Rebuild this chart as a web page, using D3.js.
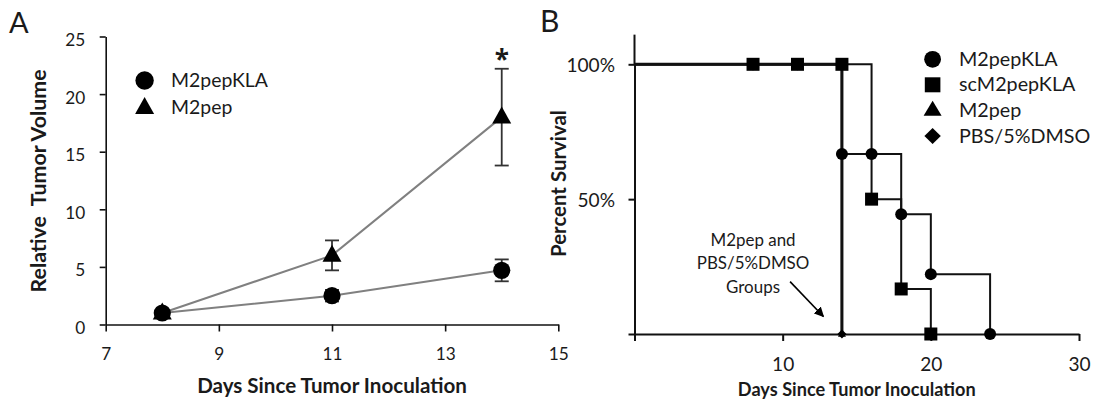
<!DOCTYPE html>
<html><head><meta charset="utf-8">
<script src="https://cdn.jsdelivr.net/npm/d3@7"></script>
<style>
body{margin:0;background:#fff}
svg{display:block}
text{font-family:Lato,'Open Sans',sans-serif;fill:#1a1a1a}
</style>
</head><body>
<svg id="c" width="1093" height="402"></svg>
<script>
// ---------- Panel A data ----------
const tumorDays = [8, 11, 14];
const klaVolume = [1.0, 2.5, 4.7];
const klaErr = [0, 0.5, 0.95];
const pepVolume = [1.0, 6.0, 18.0];
const pepErr = [0, 1.3, 4.2];
const volumeTicks = [0, 5, 10, 15, 20, 25];
const dayTicksA = [7, 9, 11, 13, 15];
const groupsA = ["M2pepKLA", "M2pep"];
const starDay = 14, starValue = 23.6;

// ---------- Panel B data ----------
const groupsB = ["M2pepKLA", "scM2pepKLA", "M2pep", "PBS/5%DMSO"];
const klaSurvDays = [0, 8, 11, 14, 16, 18, 20, 24];
const klaSurv = [100, 100, 100, 66.7, 66.7, 44.4, 22.2, 0];
const scSurvDays = [0, 8, 11, 14, 16, 18, 20];
const scSurv = [100, 100, 100, 100, 50, 16.7, 0];
const pepSurvDays = [0, 8, 11, 14];
const pepSurv = [100, 100, 100, 0];
const pbsSurvDays = [0, 8, 11, 14];
const pbsSurv = [100, 100, 100, 0];
const survTicks = [0, 50, 100];
const dayTicksB = [0, 10, 20, 30];
const noteLines = ["M2pep and", "PBS/5%DMSO", "Groups"];
const notePos = {day: 8.0, pct: [34.9, 26.3, 17.4]};
const arrowFrom = {day: 10.5, pct: 19.4}, arrowTo = {day: 12.75, pct: 6.5};

const svg = d3.select("#c");
const INK = "#111";
const FONT = "Lato,'Open Sans',sans-serif";

function fitSize(str, weight, target) {
  const t = svg.append("text").style("font-weight", weight).style("font-size", "100px").text(str);
  const w = t.node().getComputedTextLength();
  t.remove();
  return 100 * target / w;
}

// ================= PANEL A =================
const xA = d3.scaleLinear().domain([7, 15]).range([105.7, 558.3]);
const yA = d3.scaleLinear().domain([0, 25]).range([324.5, 36.5]);
const tickFontA = fitSize("13", 400, 20);

const gxA = svg.append("g").attr("transform", `translate(0,${yA(0)})`)
  .call(d3.axisBottom(xA).tickValues(dayTicksA).tickSize(7).tickSizeOuter(0).tickFormat(d3.format("d")));
const gyA = svg.append("g").attr("transform", `translate(${xA(7)},0)`)
  .call(d3.axisLeft(yA).tickValues(volumeTicks).tickSize(6).tickSizeOuter(0));
[gxA, gyA].forEach(g => {
  g.select(".domain").attr("stroke", INK).attr("stroke-width", 1.6);
  g.selectAll(".tick line").attr("stroke", INK).attr("stroke-width", 1.6);
  g.selectAll("text").style("font-size", tickFontA + "px").attr("fill", "#1a1a1a").style("font-family", FONT);
});
gxA.selectAll("text").attr("y", 35.5).attr("dy", 0);
gyA.selectAll("text").attr("x", -20.5).attr("y", 9).attr("dy", 0);

// lines
const lineA = d3.line().x(d => xA(d[0])).y(d => yA(d[1]));
const klaPts = tumorDays.map((d, i) => [d, klaVolume[i], klaErr[i]]);
const pepPts = tumorDays.map((d, i) => [d, pepVolume[i], pepErr[i]]);
[pepPts, klaPts].forEach(p => svg.append("path").attr("d", lineA(p)).attr("fill", "none")
  .attr("stroke", "#808080").attr("stroke-width", 2));

// error bars
function errBars(pts) {
  const g = svg.append("g").attr("stroke", "#333").attr("stroke-width", 1.8);
  pts.filter(p => p[2] > 0).forEach(p => {
    const x = xA(p[0]), y1 = yA(p[1] - p[2]), y2 = yA(p[1] + p[2]);
    g.append("line").attr("x1", x).attr("x2", x).attr("y1", y1).attr("y2", y2);
    g.append("line").attr("x1", x - 7).attr("x2", x + 7).attr("y1", y1).attr("y2", y1);
    g.append("line").attr("x1", x - 7).attr("x2", x + 7).attr("y1", y2).attr("y2", y2);
  });
}
errBars(pepPts);
errBars(klaPts);

const triPath = (w, h) => `M0,${-h * 0.62}L${w / 2},${h * 0.38}L${-w / 2},${h * 0.38}Z`;
svg.append("g").selectAll("path").data(pepPts).join("path")
  .attr("transform", d => `translate(${xA(d[0])},${yA(d[1])})`)
  .attr("d", triPath(19, 17)).attr("fill", "#000");
svg.append("g").selectAll("circle").data(klaPts).join("circle")
  .attr("cx", d => xA(d[0])).attr("cy", d => yA(d[1])).attr("r", 8.6).attr("fill", "#000");

svg.append("text").attr("x", xA(starDay)).attr("y", yA(starValue)).attr("dy", "0.62em")
  .attr("text-anchor", "middle").style("font-family", "'Open Sans',sans-serif")
  .style("font-size", "26px").style("font-weight", 700).text("*");

// legend A
const legFontA = fitSize("M2pepKLA", 400, 97);
const legA = svg.append("g");
legA.append("circle").attr("cx", 144.6).attr("cy", 80.5).attr("r", 9.2).attr("fill", "#000");
legA.append("path").attr("transform", "translate(144.6,107.5)").attr("d", triPath(19, 17)).attr("fill", "#000");
groupsA.forEach((g, i) => legA.append("text").attr("x", 171).attr("y", 87 + i * 26.7)
  .style("font-size", legFontA + "px").text(g));

// titles A
const tA = fitSize("Days Since Tumor Inoculation", 700, 270);
svg.append("text").attr("x", (xA(7) + xA(15)) / 2).attr("y", 392.5).attr("text-anchor", "middle")
  .style("font-weight", 700).style("font-size", tA + "px").text("Days Since Tumor Inoculation");
const tyA = fitSize("Relative  Tumor Volume", 700, 218);
svg.append("text").attr("transform", "translate(46,181) rotate(-90)").attr("text-anchor", "middle")
  .style("font-weight", 700).style("font-size", tyA + "px").style("white-space", "pre").text("Relative  Tumor Volume");
svg.append("text").attr("x", 9).attr("y", 33).style("font-size", "29px").text("A");

// ================= PANEL B =================
const xB = d3.scaleLinear().domain([0, 30]).range([634.5, 1079]);
const yB = d3.scaleLinear().domain([0, 100]).range([334, 64.3]);
const tickFontB = fitSize("100%", 400, 48.6);

const gxB = svg.append("g").attr("transform", `translate(0,${yB(0)})`)
  .call(d3.axisBottom(xB).tickValues(dayTicksB).tickSize(7).tickSizeOuter(0).tickFormat(d => d === 0 ? "" : d));
const gyB = svg.append("g").attr("transform", `translate(${xB(0)},0)`)
  .call(d3.axisLeft(yB).tickValues(survTicks).tickSize(6).tickSizeOuter(0).tickFormat(d => d === 0 ? "" : d + "%"));
[gxB, gyB].forEach(g => {
  g.select(".domain").attr("stroke", INK).attr("stroke-width", 2);
  g.selectAll(".tick line").attr("stroke", INK).attr("stroke-width", 2);
  g.selectAll("text").style("font-size", tickFontB + "px").attr("fill", "#1a1a1a").style("font-family", FONT);
});
gxB.selectAll("text").attr("y", 37).attr("dy", 0);
gyB.selectAll("text").attr("x", -19.5).attr("y", 7).attr("dy", 0);
svg.append("line").attr("x1", xB(0)).attr("x2", xB(0)).attr("y1", yB(100)).attr("y2", yB(111))
  .attr("stroke", INK).attr("stroke-width", 2);

const stepLine = d3.line().x(d => xB(d[0])).y(d => yB(d[1])).curve(d3.curveStepAfter);
const klaS = klaSurvDays.map((d, i) => [d, klaSurv[i]]);
const scS = scSurvDays.map((d, i) => [d, scSurv[i]]);
const pepS = pepSurvDays.map((d, i) => [d, pepSurv[i]]);
const pbsS = pbsSurvDays.map((d, i) => [d, pbsSurv[i]]);
[pepS, pbsS, klaS, scS].forEach(s => svg.append("path").attr("d", stepLine(s)).attr("fill", "none")
  .attr("stroke", INK).attr("stroke-width", 2));
// overlapping shared segments look heavier in the reference
[pepS].forEach(s => svg.append("path").attr("d", stepLine(s)).attr("fill", "none")
  .attr("stroke", INK).attr("stroke-width", 3));

// markers B
svg.append("g").selectAll("path").data(pepS.slice(1)).join("path")
  .attr("transform", d => `translate(${xB(d[0])},${yB(d[1])})`).attr("d", triPath(8, 7)).attr("fill", "#000");
svg.append("g").selectAll("path").data(pbsS.slice(1)).join("path")
  .attr("transform", d => `translate(${xB(d[0])},${yB(d[1])})`).attr("d", "M0,-4.5L4.5,0L0,4.5L-4.5,0Z").attr("fill", "#000");
svg.append("g").selectAll("circle").data(klaS.slice(1)).join("circle")
  .attr("cx", d => xB(d[0])).attr("cy", d => yB(d[1])).attr("r", 6).attr("fill", "#000");
svg.append("g").selectAll("rect").data(scS.slice(1)).join("rect")
  .attr("x", d => xB(d[0]) - 6.5).attr("y", d => yB(d[1]) - 6.5).attr("width", 13).attr("height", 13).attr("fill", "#000");

// annotation
const noteFont = fitSize("PBS/5%DMSO", 400, 112.7);
noteLines.forEach((l, i) => svg.append("text").attr("x", xB(notePos.day)).attr("y", yB(notePos.pct[i])).attr("dy", "0.36em")
  .attr("text-anchor", "middle").style("font-size", noteFont + "px").text(l));
svg.append("defs").append("marker").attr("id", "ah").attr("viewBox", "0 0 10 10").attr("refX", 9).attr("refY", 5)
  .attr("markerWidth", 10).attr("markerHeight", 10).attr("markerUnits", "userSpaceOnUse").attr("orient", "auto")
  .append("path").attr("d", "M0,0L10,5L0,10Z").attr("fill", "#000");
svg.append("line").attr("x1", xB(arrowFrom.day)).attr("y1", yB(arrowFrom.pct))
  .attr("x2", xB(arrowTo.day)).attr("y2", yB(arrowTo.pct))
  .attr("stroke", "#000").attr("stroke-width", 1.6).attr("marker-end", "url(#ah)");

// legend B
const legFontB = fitSize("M2pepKLA", 400, 98.6);
const legB = svg.append("g");
const lx = 932.6, ly = [59.3, 84.8, 110, 136];
legB.append("circle").attr("cx", lx).attr("cy", ly[0]).attr("r", 8.4).attr("fill", "#000");
legB.append("rect").attr("x", lx - 7.8).attr("y", ly[1] - 7.5).attr("width", 15.6).attr("height", 15).attr("fill", "#000");
legB.append("path").attr("transform", `translate(${lx},${ly[2]})`).attr("d", triPath(18, 15)).attr("fill", "#000");
legB.append("path").attr("transform", `translate(${lx},${ly[3]})`).attr("d", "M0,-8L8.2,0L0,8L-8.2,0Z").attr("fill", "#000");
groupsB.forEach((g, i) => legB.append("text").attr("x", 959).attr("y", ly[i] + 6.5)
  .style("font-size", legFontB + "px").text(g));

// titles B
const tB = fitSize("Days Since Tumor Inoculation", 700, 238);
svg.append("text").attr("x", (xB(0) + xB(30)) / 2).attr("y", 396).attr("text-anchor", "middle")
  .style("font-weight", 700).style("font-size", tB + "px").text("Days Since Tumor Inoculation");
const tyB = fitSize("Percent Survival", 700, 147);
svg.append("text").attr("transform", "translate(566,183.5) rotate(-90)").attr("text-anchor", "middle")
  .style("font-weight", 700).style("font-size", tyB + "px").text("Percent Survival");
svg.append("text").attr("x", 540).attr("y", 32).style("font-size", "30px").text("B");
</script>
</body></html>
